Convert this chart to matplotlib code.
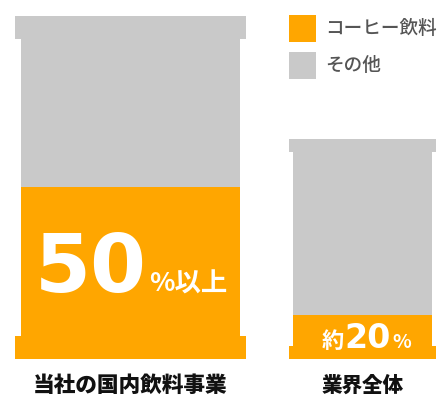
import matplotlib.pyplot as plt
from matplotlib.patches import Rectangle

plt.rcParams['font.family'] = ['Noto Sans CJK JP', 'DejaVu Sans']

# data
categories = ['当社の国内飲料事業', '業界全体']
coffee_share = [50, 20]          # % of the can that is coffee drinks
can_height = [100, 64]           # relative size of each can
share_labels = ['50', '20']
legend_labels = ['コーヒー飲料', 'その他']

orange = '#ffa600'
grey = '#c9c9c9'

# layout of the two cans (x in pixels, y in can units)
centers = [130.5, 362.5]
body_w = [219, 139]
cap_w = [231, 147]
cap_frac = [0.067, 0.058]
px = 3.43  # pixels per can unit

fig = plt.figure(figsize=(4.41, 3.97), dpi=100)
ax = fig.add_axes([0, 0, 1, 1])
ax.set_xlim(0, 441)
ax.set_ylim(-11.08, 104.66)
ax.axis('off')

for i in range(len(categories)):
    h = can_height[i]
    coffee = h * coffee_share[i] / 100
    cap = h * cap_frac[i]
    # body: coffee part + the rest
    ax.bar(centers[i], coffee, width=body_w[i], color=orange, bottom=0)
    ax.bar(centers[i], h - coffee, width=body_w[i], color=grey, bottom=coffee)
    # rims at top and bottom
    ax.bar(centers[i], cap, width=cap_w[i], color=orange, bottom=0)
    ax.bar(centers[i], cap, width=cap_w[i], color=grey, bottom=h - cap)
    ax.text(centers[i], -7.8, categories[i], ha='center', va='center',
            fontsize=15.6 if i == 0 else 14.8, fontweight='heavy',
            color='#111111')

# value labels
num_font = ['DejaVu Sans']
ax.text(147, 19.6, share_labels[0], ha='right', va='baseline', color='white',
        fontsize=58, fontweight='bold', family=num_font)
ax.text(149, 19.6, '%以上', ha='left', va='baseline', color='white',
        fontsize=19, fontweight='bold')

ax.text(344, 3.3, '約', ha='right', va='baseline', color='white',
        fontsize=16, fontweight='bold')
ax.text(344, 3.3, share_labels[1], ha='left', va='baseline', color='white',
        fontsize=24, fontweight='bold', family=num_font)
ax.text(392, 3.3, '%', ha='left', va='baseline', color='white',
        fontsize=14, fontweight='bold')

# legend
for j, (lab, col) in enumerate(zip(legend_labels, [orange, grey])):
    y_top = 104.66 - (15 + 37 * j) / px
    ax.add_patch(Rectangle((289, y_top - 27 / px), 27, 27 / px,
                           color=col, lw=0))
    ax.text(325, y_top - 13.5 / px, lab, ha='left', va='center',
            fontsize=13.4, fontweight='medium', color='#555555')

fig.savefig('out.png', dpi=100)
